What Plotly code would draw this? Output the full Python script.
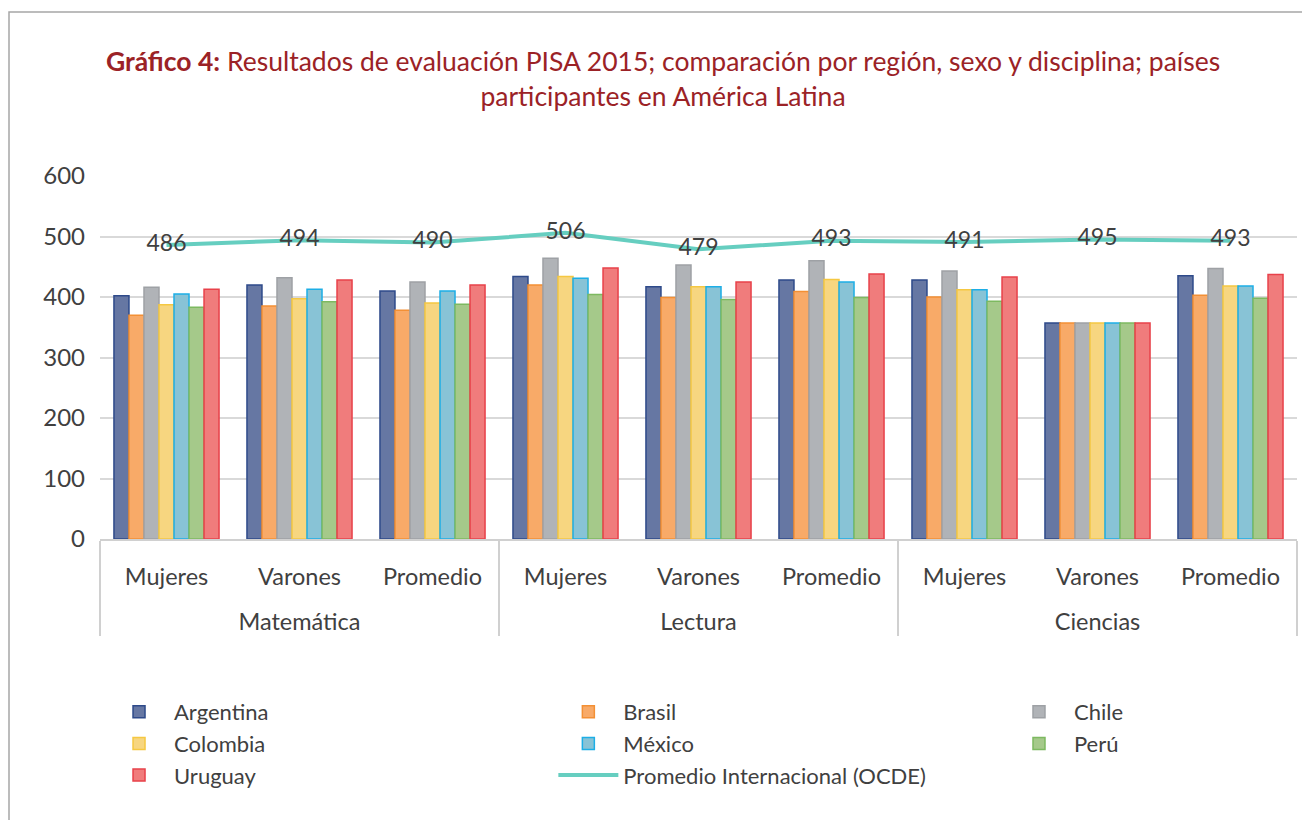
import plotly.graph_objects as go

disciplinas = ["Matemática"] * 3 + ["Lectura"] * 3 + ["Ciencias"] * 3
grupos = ["Mujeres", "Varones", "Promedio"] * 3

argentina = [402, 420, 410, 434, 417, 428, 428, 357, 435]
brasil = [370, 385, 378, 420, 399, 409, 400, 357, 403]
chile = [416, 432, 425, 464, 453, 460, 443, 357, 447]
colombia = [387, 397, 390, 434, 417, 429, 412, 357, 418]
mexico = [405, 413, 410, 431, 417, 425, 412, 357, 418]
peru = [383, 392, 388, 404, 396, 399, 393, 357, 398]
uruguay = [413, 428, 420, 448, 425, 438, 433, 357, 437]
ocde = [486, 494, 490, 506, 479, 493, 491, 495, 493]

series = [
    ("Argentina", argentina, "#6677A3", "#2E4A8A", "legend"),
    ("Brasil", brasil, "#F8AA68", "#F39035", "legend2"),
    ("Chile", chile, "#B0B3B7", "#9EA1A5", "legend3"),
    ("Colombia", colombia, "#F7D680", "#F5C842", "legend"),
    ("México", mexico, "#88C3D6", "#1DAEE6", "legend2"),
    ("Perú", peru, "#A5C98A", "#7DB960", "legend3"),
    ("Uruguay", uruguay, "#F07C7C", "#E8414A", "legend"),
]

x = [["<br>" + d for d in disciplinas], grupos]
fig = go.Figure()
for name, vals, fill, line, lg in series:
    fig.add_trace(go.Bar(
        x=x, y=vals, name=name, legend=lg,
        marker=dict(color=fill, line=dict(color=line, width=1.5)),
    ))

fig.add_trace(go.Scatter(
    x=x, y=ocde, name="Promedio Internacional (OCDE)", legend="legend2",
    mode="lines+text", text=[str(v) for v in ocde],
    textposition="middle center",
    textfont=dict(size=23, color="#404040", family="Lato"),
    line=dict(color="#66CEC0", width=4),
))

leg_common = dict(
    orientation="v", xref="container", yref="container",
    yanchor="top", xanchor="left", y=0.167,
    font=dict(size=22, color="#404040", family="Lato"),
    traceorder="normal", itemwidth=60, tracegroupgap=0,
    bgcolor="rgba(0,0,0,0)",
)
fig.update_layout(
    width=1310, height=820,
    paper_bgcolor="white", plot_bgcolor="white",
    font=dict(family="Lato", color="#404040", size=23),
    margin=dict(l=92, r=21, t=168, b=289, autoexpand=False),
    barmode="group", bargap=0.21, bargroupgap=0,
    title=dict(
        text="<b>Gráfico 4:</b> Resultados de evaluación PISA 2015; comparación por región, sexo y disciplina; países<br>participantes en América Latina",
        x=0.5, xanchor="center", y=0.9227, yanchor="middle",
        font=dict(family="Lato", size=26.5, color="#9B2226"),
    ),
    legend=dict(leg_common, x=0.0733),
    legend2=dict(leg_common, x=0.4163),
    legend3=dict(leg_common, x=0.7603),
    showlegend=True,
)
fig.update_yaxes(
    range=[0, 600], dtick=100, showgrid=True, gridcolor="#D9D9D9", gridwidth=2,
    zeroline=False, ticks="", tickfont=dict(size=24), ticklabelstandoff=14,
)
fig.update_xaxes(
    showline=True, linecolor="#D0D0D0", linewidth=2,
    showdividers=True, dividercolor="#D0D0D0", dividerwidth=2,
    tickfont=dict(size=23.5), ticks="", ticklabelstandoff=16,
)
fig.add_shape(type="rect", xref="paper", yref="paper",
              x0=-91 / 1197, x1=1.05, y0=-0.9, y1=1 + 164 / 363,
              line=dict(color="#A6A6A6", width=1.5), layer="below")
fig.write_html("out.html")
